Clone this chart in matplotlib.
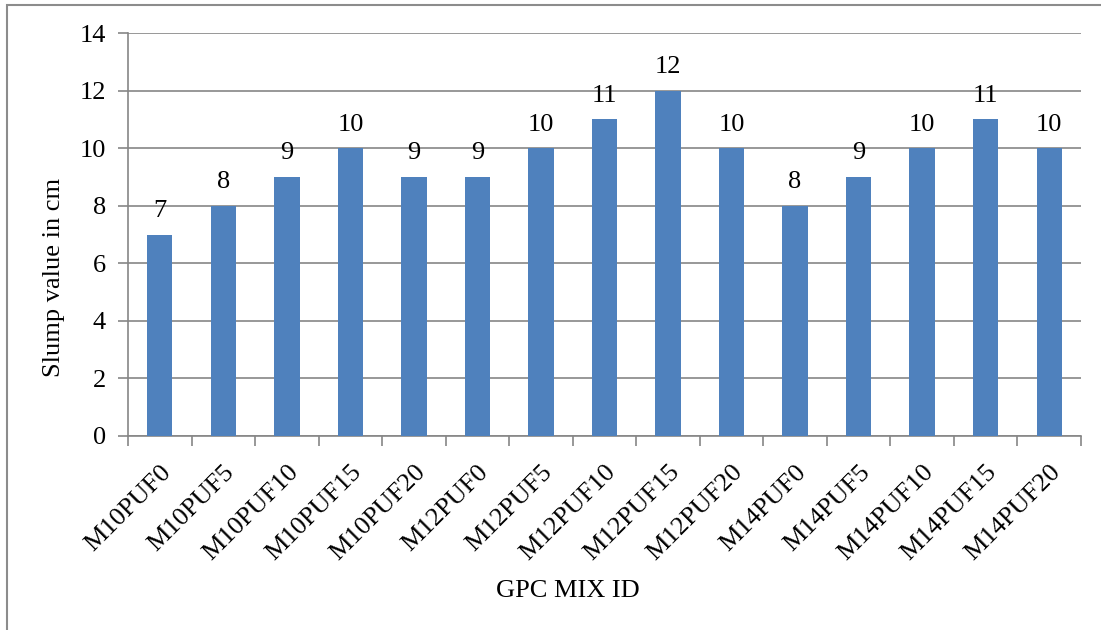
import matplotlib
matplotlib.use("Agg")
import matplotlib.pyplot as plt
from matplotlib.patches import Rectangle
from matplotlib.transforms import ScaledTranslation

mix_ids = ["M10PUF0", "M10PUF5", "M10PUF10", "M10PUF15", "M10PUF20",
           "M12PUF0", "M12PUF5", "M12PUF10", "M12PUF15", "M12PUF20",
           "M14PUF0", "M14PUF5", "M14PUF10", "M14PUF15", "M14PUF20"]
slump_cm = [7, 8, 9, 10, 9, 9, 10, 11, 12, 10, 8, 9, 10, 11, 10]
y_ticks = [0, 2, 4, 6, 8, 10, 12, 14]

plt.rcParams['font.family'] = ['Liberation Serif', 'DejaVu Serif']
FS = 19
W, H = 1101, 630
fig = plt.figure(figsize=(W / 100, H / 100), dpi=100)
ax = fig.add_axes([128 / W, 1 - 436 / H, (1081 - 128) / W, (436 - 33) / H])

# outer chart frame
fig.patches.append(Rectangle((7 / W, -0.05), 1.2, 1 - 4.5 / H + 0.05,
                             transform=fig.transFigure, fill=False,
                             edgecolor='#8c8c8c', linewidth=1.5))

x = list(range(len(mix_ids)))
bars = ax.bar(x, slump_cm, width=0.4, color='#4F81BD', zorder=3)
for xi, v in zip(x, slump_cm):
    ax.annotate(f"{v}", (xi, v), xytext=(0, 9), textcoords='offset points',
                ha='center', va='bottom', fontsize=FS, zorder=4)

ax.set_xlim(-0.5, len(mix_ids) - 0.5)
ax.set_ylim(0, 14)
ax.set_yticks(y_ticks)
ax.set_yticklabels([str(t) for t in y_ticks], fontsize=FS)
ax.yaxis.grid(True, color='#868686', linewidth=1.2, zorder=0)
ax.set_axisbelow(True)

ax.set_xticks([i - 0.5 for i in range(len(mix_ids) + 1)], minor=False)
ax.set_xticklabels([])
ax.set_xticks(x, minor=True)
ax.set_xticklabels(mix_ids, minor=True, rotation=45, ha='right', va='top',
                   rotation_mode='anchor', fontsize=FS)
shift = ScaledTranslation(-5 / 100, 1 / 100, fig.dpi_scale_trans)
for lbl in ax.get_xticklabels(minor=True):
    lbl.set_transform(lbl.get_transform() + shift)
ax.tick_params(axis='x', which='minor', length=0, pad=18)
ax.tick_params(axis='x', which='major', length=7, color='#868686', width=1.2)
ax.tick_params(axis='y', length=7, color='#868686', width=1.2, pad=9)

for s in ['top', 'right']:
    ax.spines[s].set_visible(False)
for s in ['left', 'bottom']:
    ax.spines[s].set_color('#868686')
    ax.spines[s].set_linewidth(1.2)

fig.text(568 / W, 1 - 591 / H, "GPC MIX ID", ha='center', va='center', fontsize=FS)
fig.text(54 / W, 1 - 277 / H, "Slump value in cm", ha='center', va='center',
         rotation=90, fontsize=FS)

fig.savefig("out.png", dpi=100)
